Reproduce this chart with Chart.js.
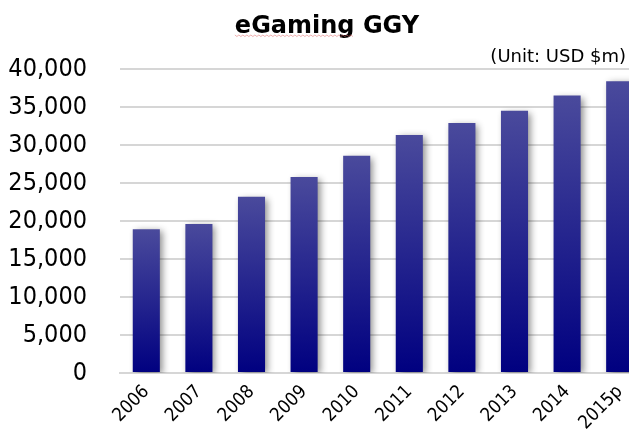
<!DOCTYPE html>
<html>
<head>
<meta charset="utf-8">
<script src="https://cdn.jsdelivr.net/npm/chart.js@4"></script>
<style>
  html, body { margin: 0; padding: 0; background: #fff; overflow: hidden; }
  #wrap { width: 646px; height: 439px; }
</style>
</head>
<body>
<div id="wrap"><canvas id="ggyChart"></canvas></div>
<script>
// eGaming gross gaming yield, USD $m
var years = ["2006", "2007", "2008", "2009", "2010", "2011", "2012", "2013", "2014", "2015p"];
var ggy = [18900, 19600, 23200, 25800, 28600, 31300, 32900, 34500, 36500, 38400];
var yTicks = [0, 5000, 10000, 15000, 20000, 25000, 30000, 35000, 40000];

var chartTitle = "eGaming GGY";
var unitLabel = "(Unit: USD $m)";
var tickFont = "'DejaVu Sans Condensed', 'DejaVu Sans', sans-serif";

// vertical gradient per bar, lighter at the top
function barFill(c) {
  var chart = c.chart;
  if (!chart.chartArea || c.type !== "data") return "#1e1e8c";
  var y = chart.scales.y;
  var g = chart.ctx.createLinearGradient(0, y.getPixelForValue(c.raw), 0, y.getPixelForValue(0));
  g.addColorStop(0, "#4a4a9c");
  g.addColorStop(1, "#000080");
  return g;
}

// soft drop shadow under the bars
var barShadow = {
  id: "barShadow",
  beforeDatasetsDraw: function (chart) {
    var ctx = chart.ctx;
    ctx.save();
    ctx.shadowColor = "rgba(0,0,0,0.45)";
    ctx.shadowBlur = 7;
    ctx.shadowOffsetX = 3;
    ctx.shadowOffsetY = 2;
  },
  afterDatasetsDraw: function (chart) {
    chart.ctx.restore();
  }
};

// title and unit note above the plot
var header = {
  id: "header",
  afterDraw: function (chart) {
    var ctx = chart.ctx;
    ctx.save();
    ctx.fillStyle = "#000";
    ctx.font = "bold 24px 'DejaVu Sans', sans-serif";
    ctx.textAlign = "center";
    ctx.textBaseline = "alphabetic";
    ctx.fillText(chartTitle, 327, 33);

    // spellcheck squiggle under "eGaming"
    var w = ctx.measureText("eGaming").width;
    var x0 = 327 - ctx.measureText(chartTitle).width / 2;
    ctx.strokeStyle = "rgba(225,110,110,0.55)";
    ctx.lineWidth = 1;
    ctx.beginPath();
    for (var x = 0; x <= w; x += 2) {
      var yy = 35 + ((x / 2) % 2 === 0 ? 0 : 1.5);
      if (x === 0) ctx.moveTo(x0 + x, yy); else ctx.lineTo(x0 + x, yy);
    }
    ctx.stroke();

    ctx.font = "18px 'DejaVu Sans', sans-serif";
    ctx.textAlign = "right";
    ctx.fillText(unitLabel, 626, 62);
    ctx.restore();
  }
};

var ctx = document.getElementById("ggyChart").getContext("2d");
var ggyChart = new Chart(ctx, {
  type: "bar",
  data: {
    labels: years,
    datasets: [
      {
        label: "GGY",
        data: ggy,
        backgroundColor: barFill,
        borderWidth: 0,
        barPercentage: 0.515,
        categoryPercentage: 1.0
      }
    ]
  },
  options: {
    responsive: true,
    maintainAspectRatio: false,
    animation: false,
    layout: { padding: { top: 69, right: 0, bottom: 0, left: 0 } },
    plugins: {
      legend: { display: false },
      tooltip: { enabled: false }
    },
    scales: {
      x: {
        grid: { display: false },
        border: { color: "#d6d6d6", width: 2 },
        ticks: {
          color: "#000",
          font: { family: tickFont, size: 18.5 },
          maxRotation: 45,
          minRotation: 45,
          padding: 0
        },
        afterFit: function (scale) { scale.height = 66; }
      },
      y: {
        min: 0,
        max: 40000,
        afterBuildTicks: function (scale) {
          scale.ticks = yTicks.map(function (v) { return { value: v }; });
        },
        grid: { color: "#d6d6d6", lineWidth: 2, drawTicks: false },
        border: { display: false },
        ticks: {
          color: "#000",
          font: { family: tickFont, size: 25 },
          padding: 33,
          callback: function (v) { return Number(v).toLocaleString("en-US"); }
        },
        afterFit: function (scale) { scale.width = 120; }
      }
    }
  },
  plugins: [barShadow, header]
});
</script>
</body>
</html>
